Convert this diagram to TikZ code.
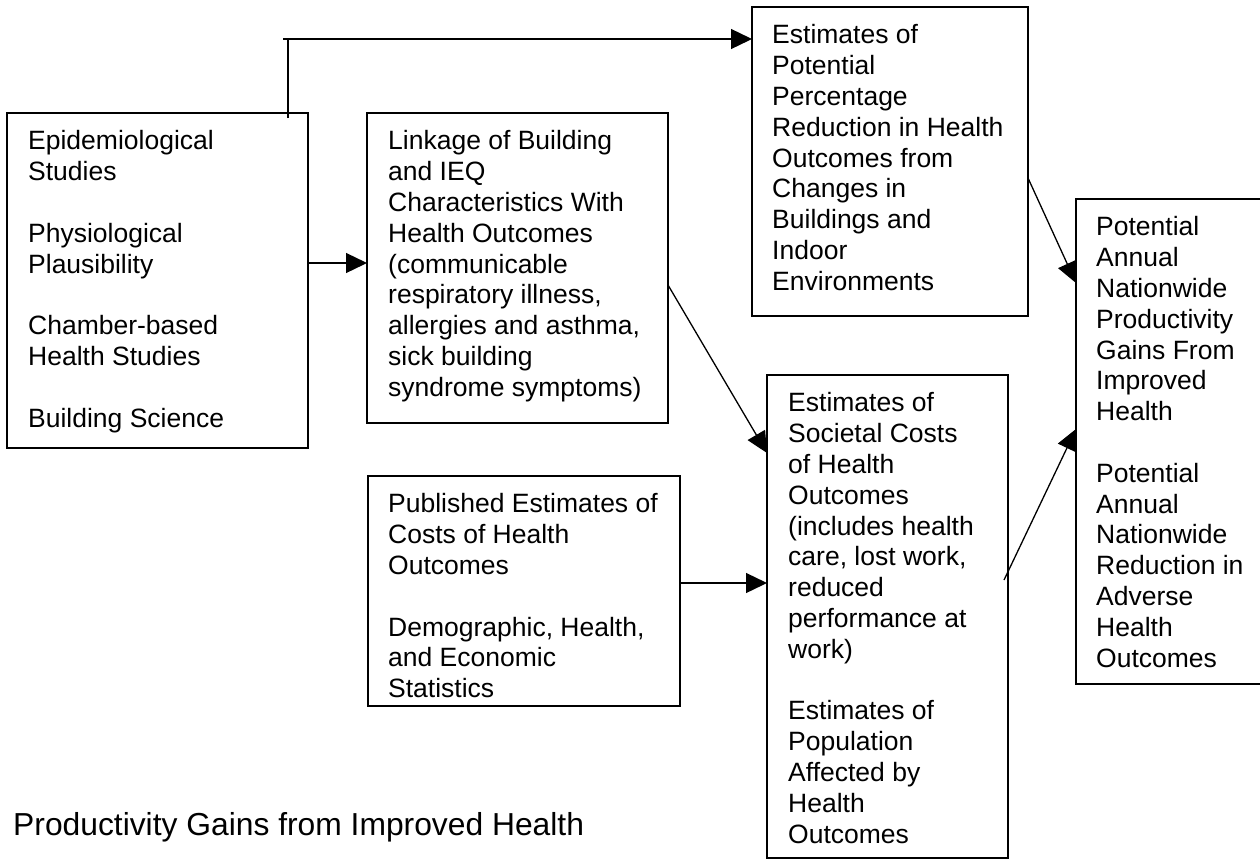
\documentclass[tikz,border=0pt]{standalone}
\usepackage{fontspec}
\setmainfont{Liberation Sans}
\usetikzlibrary{arrows.meta}
\begin{document}
\begin{tikzpicture}[x=1pt,y=-1pt,
  box/.style={draw=black,line width=1.3pt,rectangle,anchor=north west,inner sep=0pt,outer sep=0pt},
  txt/.style={anchor=north west,inner sep=0pt,align=left,font=\fontsize{26.5}{30.8}\selectfont},
  conn/.style={line width=1.3pt},
  arr/.style={conn,-{Triangle[length=21pt,width=20pt]}}]
\useasboundingbox (0,0) rectangle (1260,860);
% boxes
\node[box,minimum width=301pt,minimum height=335pt] (A) at (7,113) {};
\node[box,minimum width=301pt,minimum height=310pt] (B) at (367,113) {};
\node[box,minimum width=276pt,minimum height=309pt] (C) at (752,7) {};
\node[box,minimum width=241pt,minimum height=483pt] (D) at (767,375) {};
\node[box,minimum width=186pt,minimum height=485pt] (E) at (1076,199) {};
\node[box,minimum width=312pt,minimum height=230pt] (F) at (368,476) {};
% texts
\node[txt] (At) at ([xshift=21pt,yshift=-17.5pt]A.north west) {Epidemiological\\Studies\\[30.8pt]Physiological\\Plausibility\\[30.8pt]Chamber-based\\Health Studies\\[30.8pt]Building Science};
\node[txt] (Bt) at ([xshift=21pt,yshift=-17.5pt]B.north west) {Linkage of Building\\and IEQ\\Characteristics With\\Health Outcomes\\(communicable\\respiratory illness,\\allergies and asthma,\\sick building\\syndrome symptoms)};
\node[txt] (Ct) at ([xshift=20pt,yshift=-17.5pt]C.north west) {Estimates of\\Potential\\Percentage\\Reduction in Health\\Outcomes from\\Changes in\\Buildings and\\Indoor\\Environments};
\node[txt] (Dt) at ([xshift=21pt,yshift=-17.5pt]D.north west) {Estimates of\\Societal Costs\\of Health\\Outcomes\\(includes health\\care, lost work,\\reduced\\performance at\\work)\\[30.8pt]Estimates of\\Population\\Affected by\\Health\\Outcomes};
\node[txt] (Et) at ([xshift=20pt,yshift=-17.5pt]E.north west) {Potential\\Annual\\Nationwide\\Productivity\\Gains From\\Improved\\Health\\[30.8pt]Potential\\Annual\\Nationwide\\Reduction in\\Adverse\\Health\\Outcomes};
\node[txt] (Ft) at ([xshift=20pt,yshift=-17.5pt]F.north west) {Published Estimates of\\Costs of Health\\Outcomes\\[30.8pt]Demographic, Health,\\and Economic\\Statistics};
\node[anchor=base west,inner sep=0pt,font=\fontsize{31.8}{36}\selectfont] (title) at (13,835) {Productivity Gains from Improved Health};
% connectors
\coordinate (a1) at ([xshift=-20pt,yshift=-5pt]A.north east);
\coordinate (c1) at ([yshift=-32pt]C.north west);
\draw[conn] (a1) -- (a1 |- c1);
\draw[arr] ([xshift=-5pt]a1 |- c1) -- (c1);
\draw[arr] ([yshift=17.5pt]A.east) -- ([yshift=17.5pt]A.east -| B.west);
\draw[arr] ([yshift=-17pt]B.east) -- ([yshift=-78pt]D.north west);
\draw[arr] ([yshift=8pt]F.east) -- ([yshift=8pt]F.east -| D.west);
\draw[arr] ([yshift=-171pt]C.north east) -- ([yshift=-84pt]E.north west);
\draw[arr] ([xshift=-4pt,yshift=-205pt]D.north east) -- ([yshift=-230pt]E.north west);
\end{tikzpicture}
\end{document}
